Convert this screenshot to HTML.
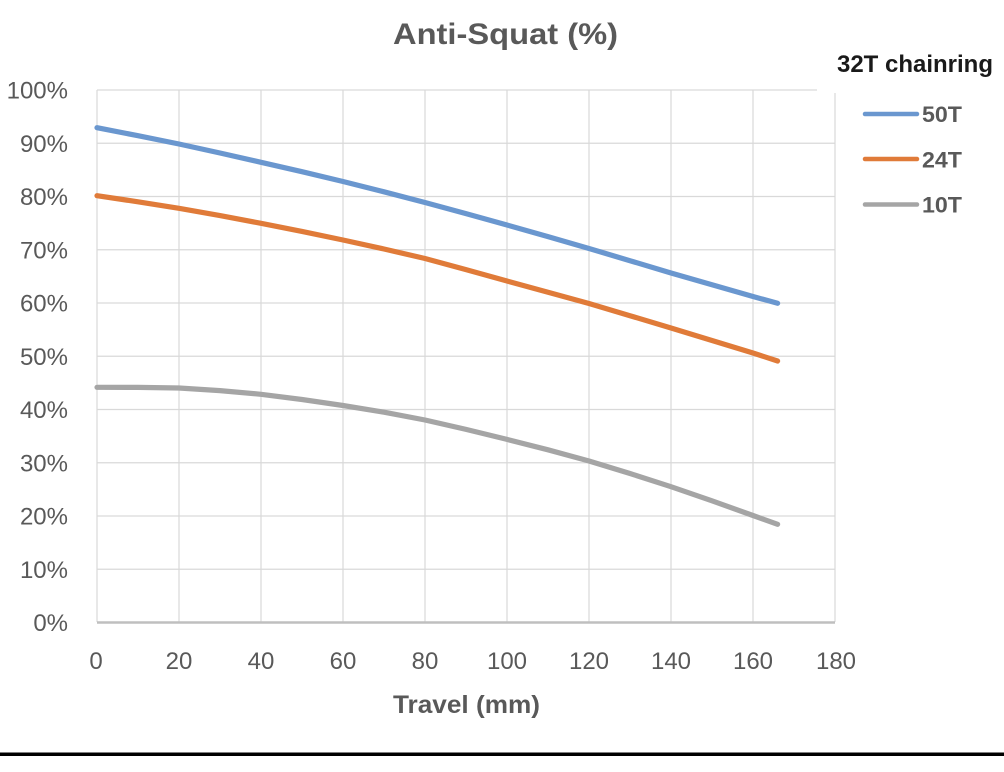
<!DOCTYPE html>
<html>
<head>
<meta charset="utf-8">
<style>
  html, body { margin: 0; padding: 0; background: #ffffff; }
  body { width: 1004px; height: 772px; overflow: hidden; }
  svg { display: block; }
  text { font-family: "Liberation Sans", Arial, sans-serif; }
</style>
</head>
<body>
<svg width="1004" height="772" viewBox="0 0 1004 772" xmlns="http://www.w3.org/2000/svg">
  <rect x="0" y="0" width="1004" height="772" fill="#ffffff"/>

  <!-- Title -->
  <text x="393" y="44" font-size="30" font-weight="bold" fill="#595959" textLength="225" lengthAdjust="spacingAndGlyphs">Anti-Squat (%)</text>

  <!-- Horizontal gridlines -->
  <g stroke="#d9d9d9" stroke-width="1.2" fill="none">
    <line x1="97" y1="90" x2="817" y2="90"/>
    <line x1="97" y1="143.25" x2="835" y2="143.25"/>
    <line x1="97" y1="196.5" x2="835" y2="196.5"/>
    <line x1="97" y1="249.75" x2="835" y2="249.75"/>
    <line x1="97" y1="303" x2="835" y2="303"/>
    <line x1="97" y1="356.25" x2="835" y2="356.25"/>
    <line x1="97" y1="409.5" x2="835" y2="409.5"/>
    <line x1="97" y1="462.75" x2="835" y2="462.75"/>
    <line x1="97" y1="516" x2="835" y2="516"/>
    <line x1="97" y1="569.25" x2="835" y2="569.25"/>
  </g>
  <!-- Vertical gridlines -->
  <g stroke="#d9d9d9" stroke-width="1.2" fill="none">
    <line x1="97" y1="90" x2="97" y2="622"/>
    <line x1="179" y1="90" x2="179" y2="622"/>
    <line x1="261" y1="90" x2="261" y2="622"/>
    <line x1="343" y1="90" x2="343" y2="622"/>
    <line x1="425" y1="90" x2="425" y2="622"/>
    <line x1="507" y1="90" x2="507" y2="622"/>
    <line x1="589" y1="90" x2="589" y2="622"/>
    <line x1="671" y1="90" x2="671" y2="622"/>
    <line x1="753" y1="90" x2="753" y2="622"/>
    <line x1="835" y1="93" x2="835" y2="622"/>
  </g>

  <!-- X axis line -->
  <line x1="97" y1="622.5" x2="835" y2="622.5" stroke="#bfbfbf" stroke-width="2.5"/>

  <!-- Y tick labels -->
  <g font-size="24" fill="#595959" text-anchor="end">
    <text x="68" y="98.5">100%</text>
    <text x="68" y="151.75">90%</text>
    <text x="68" y="205">80%</text>
    <text x="68" y="258.25">70%</text>
    <text x="68" y="311.5">60%</text>
    <text x="68" y="364.75">50%</text>
    <text x="68" y="418">40%</text>
    <text x="68" y="471.25">30%</text>
    <text x="68" y="524.5">20%</text>
    <text x="68" y="577.75">10%</text>
    <text x="68" y="631">0%</text>
  </g>

  <!-- X tick labels -->
  <g font-size="24" fill="#595959" text-anchor="middle">
    <text x="96" y="669">0</text>
    <text x="179" y="669">20</text>
    <text x="261" y="669">40</text>
    <text x="343" y="669">60</text>
    <text x="425" y="669">80</text>
    <text x="507" y="669">100</text>
    <text x="589" y="669">120</text>
    <text x="671" y="669">140</text>
    <text x="753" y="669">160</text>
    <text x="836" y="669">180</text>
  </g>

  <!-- X axis title -->
  <text x="393" y="713" font-size="25" font-weight="bold" fill="#595959" textLength="147" lengthAdjust="spacingAndGlyphs">Travel (mm)</text>

  <!-- Series -->
  <g fill="none" stroke-width="5.2" stroke-linecap="round" stroke-linejoin="round">
    <polyline stroke="#a5a5a5" points="97,387.3 138,387.4 179,388 220,390.6 261,394.3 302,399.5 343,405.5 384,412.2 425,420 466,429.4 507,439.4 548,449.8 589,461 630,473.5 671,486.7 712,500.8 753,515.5 765,519.8 777.6,524.3"/>
    <polyline stroke="#e07b39" points="97,195.7 138,201.8 179,208.3 220,215.6 261,223.3 302,231.4 343,240 384,249 425,258.5 466,269.6 507,281 548,292.2 589,303.5 630,315.7 671,328 712,340.5 753,353 777.6,361"/>
    <polyline stroke="#6a97cf" points="97,127.7 138,135.7 179,144 220,153 261,162.3 302,171.7 343,181.5 384,191.8 425,202.5 466,213.6 507,225 548,236.6 589,248.5 630,260.7 671,273 712,284.8 753,296.5 777.6,303.3"/>
  </g>

  <!-- Legend -->
  <text x="837" y="72" font-size="24" font-weight="bold" fill="#1a1a1a" textLength="156" lengthAdjust="spacingAndGlyphs">32T chainring</text>
  <g stroke-width="4.5" stroke-linecap="round">
    <line x1="865" y1="114" x2="917" y2="114" stroke="#6a97cf"/>
    <line x1="865" y1="159" x2="917" y2="159" stroke="#e07b39"/>
    <line x1="865" y1="204.5" x2="917" y2="204.5" stroke="#a5a5a5"/>
  </g>
  <g font-size="22" font-weight="bold" fill="#595959">
    <text x="922" y="122" textLength="40" lengthAdjust="spacingAndGlyphs">50T</text>
    <text x="922" y="167.5" textLength="40" lengthAdjust="spacingAndGlyphs">24T</text>
    <text x="922" y="212.5" textLength="40" lengthAdjust="spacingAndGlyphs">10T</text>
  </g>

  <!-- Bottom black rule -->
  <rect x="0" y="752.5" width="1004" height="3.5" fill="#000000"/>
</svg>
</body>
</html>
